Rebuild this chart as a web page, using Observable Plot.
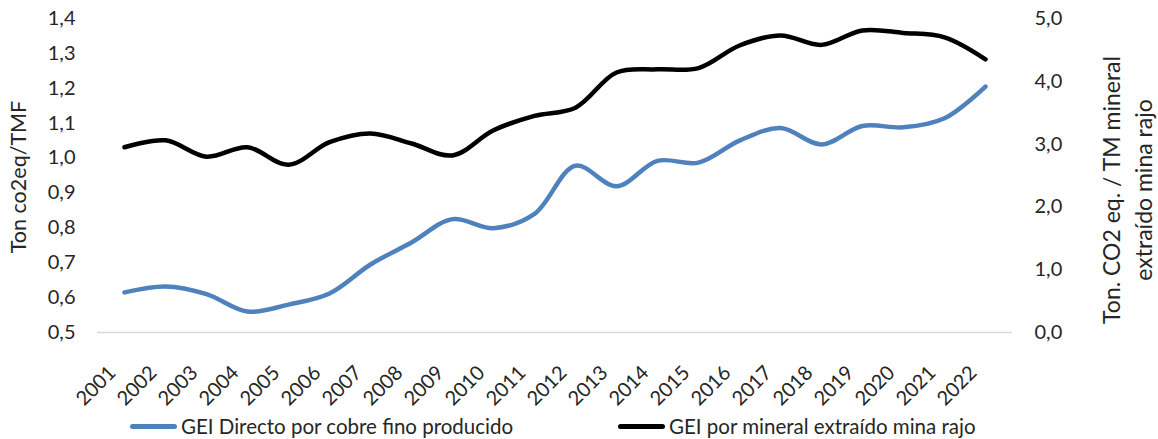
<!DOCTYPE html>
<html>
<head>
<meta charset="utf-8">
<script src="https://cdn.jsdelivr.net/npm/d3@7"></script>
<script src="https://cdn.jsdelivr.net/npm/@observablehq/plot@0.6"></script>
<style>
  body { margin: 0; background: #fff; font-family: Lato, "Open Sans", sans-serif; }
  #legend { position: relative; width: 1158px; height: 49px; font-size: 20.5px; color: #262626; }
  .item { position: absolute; top: 24px; display: flex; align-items: center; white-space: nowrap; }
  .sw { display: inline-block; width: 47px; height: 5px; border-radius: 3px; margin-right: 4px; }
</style>
</head>
<body>
<div id="chart"></div>
<div id="legend"></div>
<script>
const years = [2001,2002,2003,2004,2005,2006,2007,2008,2009,2010,2011,2012,2013,2014,2015,2016,2017,2018,2019,2020,2021,2022];
const geiDirecto = [0.615,0.632,0.610,0.560,0.580,0.612,0.695,0.758,0.825,0.799,0.840,0.978,0.919,0.992,0.987,1.050,1.086,1.039,1.092,1.088,1.114,1.205];
const geiMineral = [2.95,3.06,2.80,2.95,2.67,3.03,3.17,3.01,2.82,3.22,3.45,3.58,4.14,4.19,4.21,4.57,4.73,4.58,4.81,4.77,4.70,4.35];
const leftTicks = [0.5,0.6,0.7,0.8,0.9,1.0,1.1,1.2,1.3,1.4];
const rightTicks = [0,1,2,3,4,5];
const seriesNames = ["GEI Directo por cobre fino producido", "GEI por mineral extraído mina rajo"];
const seriesColors = ["#4f81bd", "#000000"];

const leftMin = 0.5, leftMax = 1.4, rightMax = 5;
const toLeft = v => leftMin + v * (leftMax - leftMin) / rightMax;
const fmt = d => d.toFixed(1).replace(".", ",");

const dataA = years.map((y, i) => ({year: y, v: geiDirecto[i]}));
const dataB = years.map((y, i) => ({year: y, v: toLeft(geiMineral[i])}));

const W = 1158, H = 390;
const chart = Plot.plot({
  width: W, height: H,
  marginLeft: 97, marginRight: 146, marginTop: 18, marginBottom: H - 332,
  style: {fontFamily: "Lato, 'Open Sans', sans-serif", fontSize: "20px", color: "#262626", background: "#fff", overflow: "visible"},
  x: {type: "point", domain: years, padding: 0.5, axis: null},
  y: {domain: [leftMin, leftMax]},
  marks: [
    Plot.ruleY([leftMin], {stroke: "#d9d9d9", strokeWidth: 1.5}),
    Plot.axisY(leftTicks, {anchor: "left", tickSize: 0, tickPadding: 22, tickFormat: fmt, label: null}),
    Plot.axisY(rightTicks.map(toLeft), {anchor: "right", tickSize: 0, tickPadding: 22, label: null,
      tickFormat: d => fmt((d - leftMin) * rightMax / (leftMax - leftMin))}),
    Plot.text(years, {x: d => d, y: () => leftMin, text: d => String(d), rotate: -45,
      textAnchor: "end", lineAnchor: "middle", dx: -12, dy: 37, fontSize: 20, fill: "#262626"}),
    Plot.line(dataA, {x: "year", y: "v", stroke: seriesColors[0], strokeWidth: 4.5, curve: "catmull-rom"}),
    Plot.line(dataB, {x: "year", y: "v", stroke: seriesColors[1], strokeWidth: 4.5, curve: "catmull-rom"})
  ]
});
document.getElementById("chart").appendChild(chart);

const svg = d3.select(chart);
svg.append("text").attr("transform", "translate(26,177) rotate(-90)")
  .attr("text-anchor", "middle").attr("fill", "#262626").attr("font-size", 21.5)
  .text("Ton co2eq/TMF");
svg.append("text").attr("transform", "translate(1120,190) rotate(-90)")
  .attr("text-anchor", "middle").attr("fill", "#262626").attr("font-size", 23)
  .text("Ton. CO2 eq. / TM mineral");
svg.append("text").attr("transform", "translate(1152,190) rotate(-90)")
  .attr("text-anchor", "middle").attr("fill", "#262626").attr("font-size", 23)
  .text("extraído mina rajo");

const legend = document.getElementById("legend");
const lefts = [130, 618];
seriesNames.forEach((n, i) => {
  const it = document.createElement("div");
  it.className = "item";
  it.style.left = lefts[i] + "px";
  it.innerHTML = `<span class="sw" style="background:${seriesColors[i]}"></span><span>${n}</span>`;
  legend.appendChild(it);
});
</script>
</body>
</html>
